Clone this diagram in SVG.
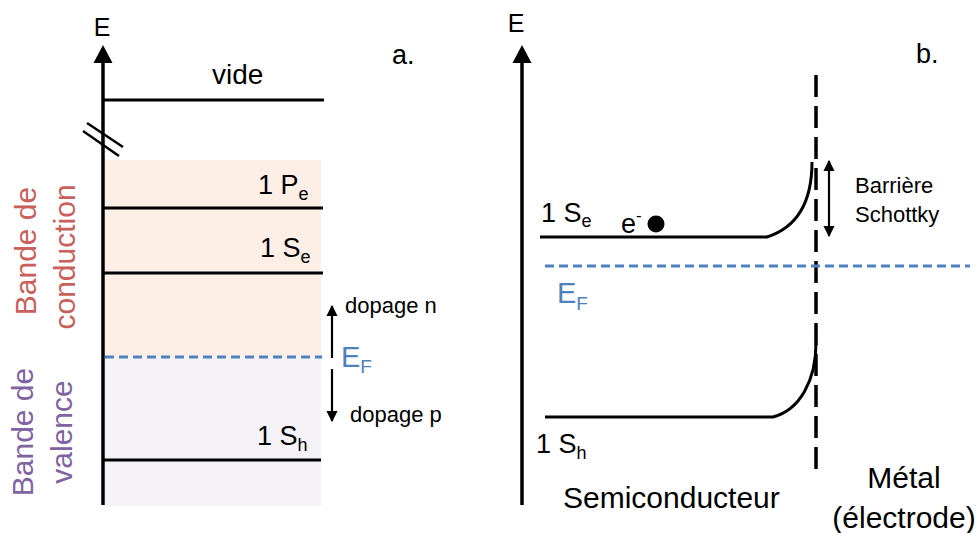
<svg xmlns="http://www.w3.org/2000/svg" width="980" height="533" viewBox="0 0 980 533">
<style>
text{font-family:"Liberation Sans",Arial,sans-serif;fill:#000}
.ln{stroke:#000;stroke-width:3;fill:none}
.ax{stroke:#000;stroke-width:3.5;fill:none}
.ef{stroke:#4F81BD;stroke-width:3;stroke-dasharray:9 5;fill:none}
.thin{stroke:#000;stroke-width:2.2;fill:none}
.blue{fill:#4F81BD}
.red{fill:#C9605B}
.pur{fill:#8064A2}
</style>
<defs>
<marker id="ah" viewBox="0 0 10 10" refX="9" refY="5" markerWidth="5.2" markerHeight="5.2" orient="auto-start-reverse" markerUnits="strokeWidth">
<path d="M0,0 L10,5 L0,10 Z" fill="#000"/>
</marker>
</defs>
<g id="panel-a-bands">
<rect x="105" y="160" width="216" height="197" fill="#FDEFE6"/>
<rect x="105" y="357" width="216" height="149" fill="#F5F3F7"/>
</g>
<g id="axis-a">
<line class="ax" x1="103" y1="505" x2="103" y2="60"/>
<polygon points="103,45 93.5,63 112.5,63" fill="#000"/>
<text x="102" y="36" font-size="25" text-anchor="middle">E</text>
<line x1="87" y1="123" x2="123" y2="147" stroke="#000" stroke-width="2.5"/>
<line x1="83" y1="131" x2="119" y2="156" stroke="#000" stroke-width="2.5"/>
</g>
<g id="level-vide">
<line class="ln" x1="103" y1="100" x2="324" y2="100"/>
<text x="212" y="84" font-size="28">vide</text>
</g>
<text id="label-a" x="392" y="64" font-size="27">a.</text>
<g id="level-1Pe">
<line class="ln" x1="103" y1="208" x2="323" y2="208"/>
<text x="258" y="194" font-size="27">1 P<tspan font-size="18" dy="6">e</tspan></text>
</g>
<g id="level-1Se-a">
<line class="ln" x1="103" y1="273" x2="323" y2="273"/>
<text x="260" y="257" font-size="27">1 S<tspan font-size="18" dy="6">e</tspan></text>
</g>
<g id="fermi-a">
<line class="ef" x1="105" y1="357" x2="322" y2="357"/>
<text class="blue" x="341" y="367" font-size="29">E<tspan font-size="19" dy="6" class="blue">F</tspan></text>
</g>
<g id="level-1Sh-a">
<line class="ln" x1="103" y1="460" x2="321" y2="460"/>
<text x="257" y="445" font-size="27">1 S<tspan font-size="18" dy="6">h</tspan></text>
</g>
<g id="band-labels">
<text class="red" transform="translate(36,251) rotate(-90)" font-size="30" text-anchor="middle">Bande de</text>
<text class="red" transform="translate(75,257) rotate(-90)" font-size="30" text-anchor="middle">conduction</text>
<text class="pur" transform="translate(33,432) rotate(-90)" font-size="30" text-anchor="middle">Bande de</text>
<text class="pur" transform="translate(72,432) rotate(-90)" font-size="30" text-anchor="middle">valence</text>
</g>
<g id="connectors">
<line class="thin" x1="332" y1="358" x2="332" y2="306" marker-end="url(#ah)"/>
<line class="thin" x1="332" y1="369" x2="332" y2="421" marker-end="url(#ah)"/>
<line class="thin" x1="829" y1="161" x2="829" y2="236" marker-start="url(#ah)" marker-end="url(#ah)"/>
</g>
<text id="dopage-n" x="345" y="313" font-size="22">dopage n</text>
<text id="dopage-p" x="350" y="422" font-size="22">dopage p</text>
<g id="axis-b">
<line class="ax" x1="522" y1="505" x2="522" y2="60"/>
<polygon points="522,45 512.5,63 531.5,63" fill="#000"/>
<text x="516" y="32" font-size="25" text-anchor="middle">E</text>
</g>
<text id="label-b" x="916" y="63" font-size="27">b.</text>
<g id="interface">
<line x1="816" y1="75" x2="816" y2="476" stroke="#000" stroke-width="3.5" stroke-dasharray="22 9"/>
</g>
<g id="band-1Se-b">
<path class="ln" d="M540,237 H767 C795,228 812,205 812,162"/>
<text x="541" y="222" font-size="27">1 S<tspan font-size="18" dy="5">e</tspan></text>
</g>
<g id="electron">
<circle cx="656" cy="224" r="8.5" fill="#000"/>
<text x="621" y="233" font-size="27">e<tspan font-size="17" dy="-12">-</tspan></text>
</g>
<g id="barrier-label">
<text x="855" y="193" font-size="22">Barrière</text>
<text x="855" y="222" font-size="22">Schottky</text>
</g>
<g id="fermi-b">
<line class="ef" x1="545" y1="266" x2="970" y2="266"/>
<text class="blue" x="557" y="303" font-size="29">E<tspan font-size="19" dy="7" class="blue">F</tspan></text>
</g>
<g id="band-1Sh-b">
<path class="ln" d="M545,417 H773 C800,410 816,380 816,343"/>
<text x="536" y="453" font-size="27">1 S<tspan font-size="18" dy="6">h</tspan></text>
</g>
<text id="semiconducteur" x="563" y="508" font-size="30">Semiconducteur</text>
<g id="metal">
<text x="904" y="488" font-size="30" text-anchor="middle">Métal</text>
<text x="904" y="528" font-size="30" text-anchor="middle">(électrode)</text>
</g>
</svg>
